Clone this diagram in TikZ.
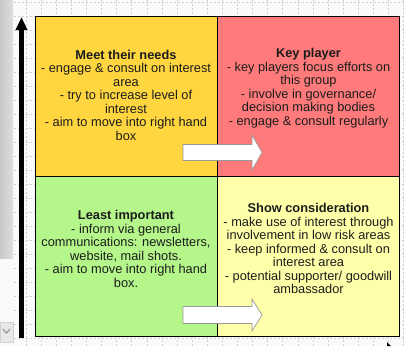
\documentclass[tikz,border=0pt]{standalone}
\usepackage{fontspec}
\setmainfont{Liberation Sans}
\usetikzlibrary{positioning, arrows.meta, calc}
\definecolor{qyellow}{HTML}{FFD640}
\definecolor{qred}{HTML}{FF7A7A}
\definecolor{qgreen}{HTML}{B4F68A}
\definecolor{qcream}{HTML}{FFFFAA}
\definecolor{gridgray}{HTML}{CFCFCF}
\definecolor{panelgray}{HTML}{DEDEDE}
\definecolor{txtgray}{HTML}{1C1C1C}
\begin{document}
\begin{tikzpicture}[x=1pt, y=-1pt,
      quad/.style={draw=black, line width=0.9pt, minimum width=182pt, minimum height=160pt, inner sep=0pt, anchor=north west},
      txt/.style={text=txtgray, align=center, inner sep=0pt, font=\fontsize{12.8}{13.5}\selectfont},
      blockarrow/.style={fill=white, draw=gray!80, line width=0.7pt},
      gridline/.style={gridgray, line width=0.5pt, dash pattern=on 2pt off 2pt}]
    % background, side panel and grid
    \useasboundingbox (0,0) rectangle (404,346);
    \fill[white!98!black] (0,0) rectangle (404,346);
    \shade[left color=panelgray!90!black, right color=panelgray] (0,0) rectangle (13,258);
    \foreach \gx in {0,...,25} \draw[gridline] ({26+15.1*\gx},0) -- ({26+15.1*\gx},346);
    \foreach \gy in {0,...,24} \draw[gridline] (14,{2+14*\gy}) -- (404,{2+14*\gy});
    \filldraw[fill=gray!18, draw=gray!35] (0,322) rectangle (13,342);
    \draw[gray!80, line width=1.2pt] (3,329) -- (6.5,333) -- (10,329);
    % vertical axis
    \coordinate (axisbot) at (21.5,338);
    \coordinate (axistop) at (21.5,17);
    \draw[line width=4.6pt, -{Triangle[width=11pt, length=13pt]}] (axisbot) -- (axistop);
    \fill (387,342) -- (391,346) -- (387,346) -- cycle;
    % quadrants
    \node[quad, fill=qyellow] (tl) at (35,16) {};
    \node[quad, fill=qred] (tr) at (217,16) {};
    \node[quad, fill=qgreen] (bl) at (35,176) {};
    \node[quad, fill=qcream] (br) at (217,176) {};
    % texts
    \node[txt] (tltxt) at (126,95) {\textbf{Meet their needs}\\- engage \& consult on interest\\area\\- try to increase level of\\interest\\- aim to move into right hand\\box};
    \node[txt] (trtxt) at (308.5,88) {\textbf{Key player}\\- key players focus efforts on\\this group\\- involve in governance/\\decision making bodies\\- engage \& consult regularly};
    \node[txt] (bltxt) at (126,249) {\textbf{Least important}\\- inform via general\\communications: newsletters,\\website, mail shots.\\- aim to move into right hand\\box.};
    \node[txt] (brtxt) at (308.5,248.5) {\textbf{Show consideration}\\- make use of interest through\\involvement in low risk areas\\- keep informed \& consult on\\interest area\\- potential supporter/ goodwill\\ambassador};
    % block arrows across the middle line
    \draw[blockarrow] (183,144.5) -- (252,144.5) -- (252,135) -- (262,152.5) -- (252,170) -- (252,160.5) -- (183,160.5) -- cycle;
    \draw[blockarrow] (183,306.5) -- (252,306.5) -- (252,299) -- (262,315) -- (252,331) -- (252,323.5) -- (183,323.5) -- cycle;
  \end{tikzpicture}
\end{document}
